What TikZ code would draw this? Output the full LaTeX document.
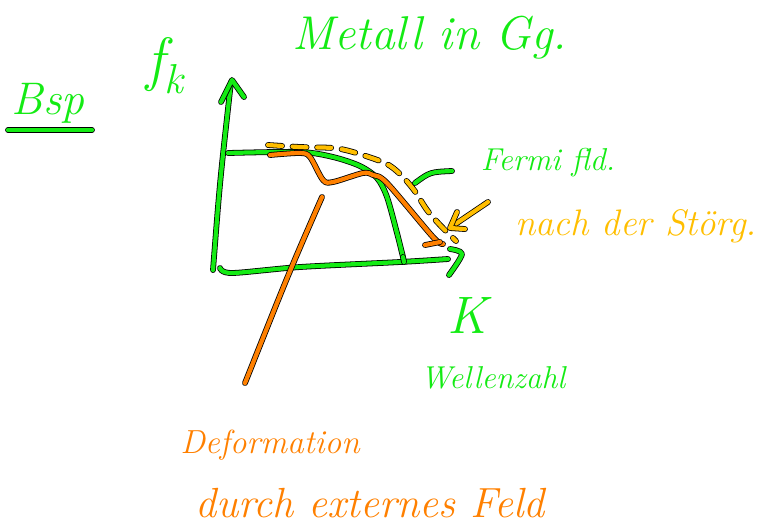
\documentclass[tikz,border=0pt]{standalone}
\usepackage{fontspec}
\usepackage{xcolor}
\usetikzlibrary{arrows.meta}
\definecolor{pengreen}{RGB}{20,235,20}
\definecolor{penorange}{RGB}{255,128,0}
\definecolor{penyellow}{RGB}{255,190,0}

\begin{document}
\begin{tikzpicture}[x=0.02cm,y=-0.02cm,>=stealth,
pen/.style={draw=black,line width=0.45pt,double distance=2.4pt,line cap=round,line join=round},
hand/.style={font=\itshape\fontsize{#1}{#1}\selectfont}]
\useasboundingbox (0,0) rectangle (766,529);
% axes
\draw[pen,double=pengreen](213,270)..controls(220,180)..(231,82);
\draw[pen,double=pengreen](221,102)--(232,80)--(244,97);
\draw[pen,double=pengreen]plot[smooth]coordinates{(220,268)(232,273)(300,267)(400,262)(448,259)};
\draw[pen,double=pengreen]plot[smooth]coordinates{(450,249)(462,254)(449,275)};
% Fermi-Verteilung im Gleichgewicht
\draw[pen,double=pengreen]plot[smooth]coordinates{(228,153)(300,152)(333,157)(360,166)(377,178)(387,197)(397,233)(403,257)};
\draw[pen,double=pengreen](403,257)--(404,262);
% nach der Stoerung
\draw[pen,double=penyellow,dash pattern=on 8pt off 6pt]plot[smooth]coordinates{(268,145)(300,147)(333,148)(353,152)(385,163)(400,174)(414,190)(427,210)(440,225)(456,241)};
% Deformation
\draw[pen,double=penorange]plot[smooth]coordinates{(270,155)(300,153)(310,157)(323,180)(333,182)(363,173)(373,175)(387,183)(433,237)(443,244)};
\draw[pen,double=penorange](425,245)--(440,242);
\draw[pen,double=penorange](322,197)..controls(290,270)..(245,383);
% Zeiger
\draw[pen,double=pengreen](415,183)..controls(430,172)..(452,171);
\draw[pen,double=penyellow](488,202)--(451,227);
\draw[pen,double=penyellow](457,212)--(450,228)--(465,229);
\draw[pen,double=pengreen](8,130)--(92,130);
% Texte
\node[hand=26,pengreen](bsp)at(48,103){Bsp};
\node[hand=34,pengreen](fk)at(165,66){f\textsubscript{k}};
\node[hand=27,pengreen](metall)at(430,38){Metall in Gg.};
\node[hand=18,pengreen](fermi)at(548,163){Fermi fld.};
\node[hand=21,penyellow](stoerg)at(636,226){nach der Störg.};
\node[hand=30,pengreen](k)at(467,315){K};
\node[hand=18,pengreen](wellenzahl)at(493,378){Wellenzahl};
\node[hand=19,penorange](deform)at(270,445){Deformation};
\node[hand=24,penorange](feld)at(370,503){durch externes Feld};
\end{tikzpicture}
\end{document}
